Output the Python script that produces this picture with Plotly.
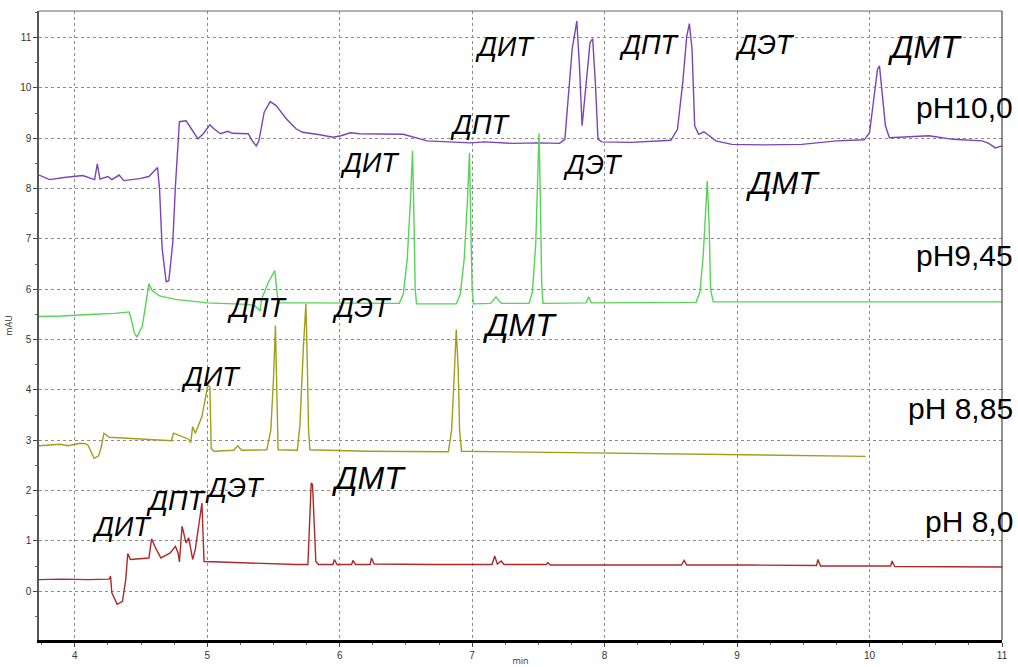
import plotly.graph_objects as go

# Retention time (min) and detector signal (mAU) for each mobile-phase pH
t_ph100 = [3.73, 3.81, 3.92, 4.06, 4.15, 4.17, 4.19, 4.25, 4.28, 4.335, 4.37, 4.49, 4.56,
           4.625, 4.64, 4.66, 4.69, 4.71, 4.74, 4.76, 4.79, 4.84, 4.88, 4.93, 4.97, 5.02,
           5.05, 5.10, 5.155, 5.19, 5.31, 5.34, 5.37, 5.39, 5.43, 5.475, 5.52, 5.60, 5.67,
           5.72, 5.85, 5.95, 6.01, 6.08, 6.15, 6.48, 6.66, 6.99, 7.09, 7.30, 7.50, 7.66,
           7.70, 7.73, 7.755, 7.79, 7.81, 7.83, 7.85, 7.89, 7.91, 7.93, 7.95, 7.98, 8.20,
           8.40, 8.50, 8.55, 8.59, 8.62, 8.64, 8.66, 8.68, 8.71, 8.75, 8.84, 8.96, 9.20,
           9.49, 9.75, 9.96, 10.00, 10.03, 10.06, 10.075, 10.09, 10.12, 10.15, 10.30,
           10.45, 10.63, 10.85, 10.90, 10.95, 11.00]
s_ph100 = [8.27, 8.18, 8.22, 8.26, 8.18, 8.49, 8.19, 8.24, 8.18, 8.27, 8.16, 8.20, 8.24,
           8.42, 7.99, 6.80, 6.15, 6.17, 6.93, 8.06, 9.33, 9.35, 9.19, 8.99, 9.09, 9.27,
           9.19, 9.09, 9.14, 9.10, 9.09, 8.95, 8.85, 8.95, 9.52, 9.73, 9.65, 9.38, 9.19,
           9.12, 9.07, 9.02, 9.05, 9.11, 9.09, 9.08, 8.95, 8.91, 8.93, 8.90, 8.91, 8.90,
           8.98, 9.91, 10.77, 11.33, 10.44, 9.25, 9.78, 10.90, 10.98, 10.11, 8.98, 8.93, 8.92,
           8.94, 8.96, 9.18, 10.11, 11.03, 11.28, 10.77, 9.25, 9.08, 9.13, 8.95, 8.88, 8.87,
           8.88, 8.95, 8.97, 9.11, 9.77, 10.37, 10.44, 10.04, 9.25, 9.01, 9.03,
           9.05, 8.98, 8.95, 8.90, 8.81, 8.85]

t_ph945 = [3.73, 3.90, 4.11, 4.30, 4.41, 4.42, 4.45, 4.47, 4.51, 4.54, 4.56, 4.585, 4.64,
           4.76, 5.00, 5.31, 5.36, 5.40, 5.41, 5.46, 5.51, 5.53, 5.54, 5.80, 6.20, 6.45,
           6.48, 6.51, 6.535, 6.55, 6.56, 6.57, 6.58, 6.88, 6.91, 6.94, 6.965, 6.98, 6.99,
           7.00, 7.01, 7.14, 7.18, 7.22, 7.43, 7.455, 7.48, 7.495, 7.505, 7.515, 7.525, 7.535,
           7.86, 7.88, 7.90, 8.69, 8.72, 8.745, 8.765, 8.775, 8.79, 8.80, 8.82,
           9.20, 9.60, 10.00, 10.50, 11.00]
s_ph945 = [5.46, 5.47, 5.50, 5.52, 5.55, 5.47, 5.13, 5.05, 5.27, 5.80, 6.11, 5.97, 5.87,
           5.80, 5.73, 5.70, 5.67, 5.57, 5.80, 6.13, 6.37, 5.87, 5.73, 5.73, 5.72, 5.72,
           5.90, 6.60, 7.80, 8.75, 7.50, 6.00, 5.71, 5.71, 5.90, 6.60, 7.80, 8.71, 7.20,
           6.00, 5.71, 5.72, 5.85, 5.72, 5.72, 5.95, 6.90, 8.20, 9.10, 7.80, 6.10, 5.72,
           5.73, 5.85, 5.73, 5.74, 5.95, 6.70, 7.60, 8.15, 7.20, 6.00, 5.75,
           5.75, 5.74, 5.75, 5.74, 5.75]

t_ph885 = [3.73, 3.89, 3.95, 4.04, 4.08, 4.10, 4.146, 4.18, 4.20, 4.22, 4.26, 4.50, 4.73,
           4.745, 4.86, 4.875, 4.89, 4.91, 4.96, 5.005, 5.02, 5.03, 5.05, 5.20, 5.23, 5.26,
           5.45, 5.48, 5.50, 5.515, 5.525, 5.535, 5.68, 5.70, 5.725, 5.745, 5.755, 5.765,
           5.775, 6.20, 6.82, 6.845, 6.865, 6.88, 6.895, 6.905, 6.92, 7.50, 8.00, 8.50,
           9.00, 9.50, 9.97]
s_ph885 = [2.89, 2.92, 2.89, 2.94, 2.93, 2.90, 2.64, 2.69, 2.87, 3.14, 3.06, 3.03, 2.99,
           3.14, 3.02, 2.95, 3.27, 3.14, 3.47, 4.10, 4.06, 2.84, 2.78, 2.80, 2.89, 2.80,
           2.81, 3.20, 4.20, 5.28, 4.21, 2.81, 2.80, 3.30, 4.80, 5.71, 4.60, 3.20,
           2.81, 2.78, 2.77, 3.20, 4.30, 5.20, 4.40, 3.20, 2.78, 2.76, 2.74, 2.72,
           2.71, 2.70, 2.68]

t_ph80 = [3.73, 3.90, 4.10, 4.26, 4.27, 4.28, 4.32, 4.36, 4.385, 4.40, 4.42, 4.56, 4.58,
          4.61, 4.65, 4.72, 4.76, 4.78, 4.79, 4.81, 4.84, 4.86, 4.89, 4.91, 4.96, 4.976,
          5.10, 5.40, 5.67, 5.76, 5.785, 5.795, 5.805, 5.82, 5.84, 5.95, 5.96, 5.98, 6.09,
          6.10, 6.12, 6.23, 6.24, 6.26, 6.70, 7.15, 7.17, 7.19, 7.22, 7.24, 7.56, 7.57,
          7.59, 8.58, 8.60, 8.62, 9.09, 9.60, 9.61, 9.63, 10.16, 10.17, 10.19, 11.00]
s_ph80 = [0.23, 0.24, 0.23, 0.24, 0.30, -0.03, -0.26, -0.20, 0.23, 0.75, 0.63, 0.66, 1.04,
          0.86, 0.66, 0.76, 0.89, 0.76, 0.58, 1.29, 0.96, 1.06, 0.63, 0.83, 1.75, 0.59,
          0.58, 0.55, 0.53, 0.53, 2.15, 2.12, 1.60, 0.59, 0.53, 0.53, 0.63, 0.53, 0.53,
          0.61, 0.53, 0.53, 0.66, 0.54, 0.53, 0.53, 0.70, 0.54, 0.60, 0.53, 0.53, 0.57,
          0.52, 0.52, 0.61, 0.52, 0.52, 0.51, 0.63, 0.50, 0.50, 0.60, 0.49, 0.48]

trace_colors = ["#7a44b6", "#56d456", "#a29e1c", "#ad2a2a"]

# Peak labels: (text, time, signal, size)
peak_labels = [
    ("ДИТ", 7.25, 10.82, 27), ("ДПТ", 8.34, 10.85, 27), ("ДЭТ", 9.21, 10.85, 27), ("ДМТ", 10.42, 10.82, 32),
    ("ДИТ", 6.23, 8.51, 27), ("ДПТ", 7.06, 9.26, 27), ("ДЭТ", 7.91, 8.47, 27), ("ДМТ", 9.35, 8.11, 32),
    ("ДПТ", 5.38, 5.63, 27), ("ДЭТ", 6.17, 5.63, 27), ("ДИТ", 5.03, 4.25, 27), ("ДМТ", 7.36, 5.29, 32),
    ("ДИТ", 4.36, 1.27, 27), ("ДПТ", 4.77, 1.80, 27), ("ДЭТ", 5.21, 2.05, 27), ("ДМТ", 6.22, 2.25, 32),
]
ph_labels = ["pH10,0", "pH9,45", "pH 8,85", "pH 8,0"]
ph_label_y = [9.62, 6.68, 3.64, 1.39]

fig = go.Figure()
for t, s, c in zip([t_ph100, t_ph945, t_ph885, t_ph80],
                   [s_ph100, s_ph945, s_ph885, s_ph80], trace_colors):
    fig.add_trace(go.Scatter(x=t, y=s, mode="lines",
                             line=dict(color=c, width=1.4), showlegend=False))

for text, x, y, size in peak_labels:
    fig.add_annotation(x=x, y=y, text=f"<i>{text}</i>", showarrow=False,
                       font=dict(family="Liberation Sans, Arial", size=size, color="black"))

for text, y in zip(ph_labels, ph_label_y):
    fig.add_annotation(x=1.014, xref="paper", y=y, text=text, showarrow=False,
                       xanchor="right",
                       font=dict(family="Liberation Sans, Arial", size=30, color="black"))

tick_font = dict(family="Liberation Sans, Arial", size=10, color="#333333")
fig.update_xaxes(range=[3.73, 11.0], tickvals=[4, 5, 6, 7, 8, 9, 10, 11], automargin=False,
                 showgrid=True, gridcolor="#8c8c8c", griddash="3px,3px", gridwidth=1,
                 zeroline=False, showline=True, linecolor="black", linewidth=3,
                 ticks="outside", ticklen=4, tickcolor="#444", tickfont=tick_font,
                 minor=dict(dtick=0.25, ticks="outside", ticklen=2, tickcolor="#666", showgrid=False),
                 title=dict(text="min", font=dict(size=9, color="#333"), standoff=10))
fig.update_yaxes(range=[-0.97, 11.53], tickvals=list(range(0, 12)), automargin=False,
                 showgrid=True, gridcolor="#8c8c8c", griddash="3px,3px", gridwidth=1,
                 zeroline=False, showline=True, linecolor="#555555", linewidth=1.5,
                 ticks="outside", ticklen=4, tickcolor="#444", tickfont=tick_font,
                 minor=dict(dtick=0.5, ticks="outside", ticklen=2, tickcolor="#666", showgrid=False),
                 title=dict(text="mAU", font=dict(size=9, color="#333"), standoff=6))

# Thin frame on the top and right edges of the plotting area
fig.add_shape(type="line", xref="paper", yref="paper", x0=0, x1=1, y0=1, y1=1,
              line=dict(color="#666666", width=1))
fig.add_shape(type="line", xref="paper", yref="paper", x0=1, x1=1, y0=0, y1=1,
              line=dict(color="#222222", width=1))

fig.update_layout(width=1018, height=667, margin=dict(l=39, r=16, t=11, b=27),
                  paper_bgcolor="white", plot_bgcolor="white")

fig.write_html("out.html")
